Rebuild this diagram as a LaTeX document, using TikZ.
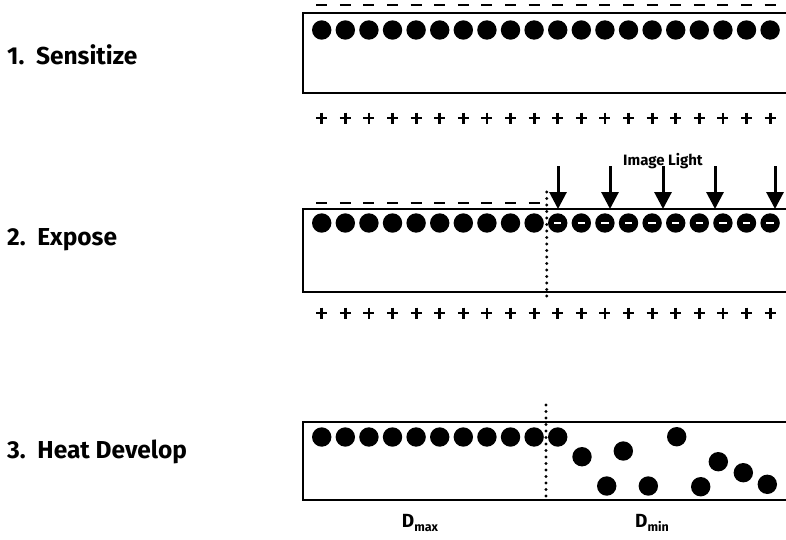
\documentclass[tikz,border=0pt]{standalone}
\usepackage{fontspec}
\setmainfont{Fira Sans}
\usetikzlibrary{arrows.meta}
\begin{document}
\begin{tikzpicture}[x=1pt,y=-1pt,
  film/.style={line width=2.6pt,draw=black},
  grain/.style={fill=black},
  chargeline/.style={line width=2.8pt,draw=black},
  steplabel/.style={font=\bfseries\fontsize{24.5}{27}\selectfont,anchor=west,inner sep=0pt},
  dlabel/.style={font=\bfseries\fontsize{19}{21}\selectfont,inner sep=0pt},
  lightarrow/.style={line width=3pt,-{Triangle[width=17pt,length=17pt]}},
  edgeline/.style={line width=3.4pt,dash pattern=on 0pt off 6.5pt,line cap=round}]
\useasboundingbox (0,0) rectangle (786,539);
\clip (0,0) rectangle (786,539);

% labels
\node[steplabel] (s1) at (7,55) {1.\ \ Sensitize};
\node[steplabel] (s2) at (7,240) {2.\ \ Expose};
\node[steplabel] (s3) at (7,452) {3.\ \ Heat Develop};

% ---- panel 1
\draw[film] (303,13) rectangle (800,93);
\foreach \i in {0,...,19}{
  \fill[grain] (321.7+23.6*\i,30) circle (9.7);
  \draw[chargeline] (316.2+23.6*\i,5) -- (327.2+23.6*\i,5);
  \draw[chargeline] (316.2+23.6*\i,118) -- (327.2+23.6*\i,118)
                    (321.7+23.6*\i,112.5) -- (321.7+23.6*\i,123.5);
}

% ---- panel 2
\draw[film] (303,209) rectangle (800,292);
\foreach \i in {0,...,19}{
  \fill[grain] (321.7+23.6*\i,223) circle (9.7);
  \draw[chargeline] (316.2+23.6*\i,313) -- (327.2+23.6*\i,313)
                    (321.7+23.6*\i,307.5) -- (321.7+23.6*\i,318.5);
}
\foreach \i in {0,...,9}{
  \draw[chargeline] (316.2+23.6*\i,203) -- (327.2+23.6*\i,203);
}
\foreach \i in {10,...,19}{
  \draw[line width=2pt,white] (318+23.6*\i,223) -- (325.4+23.6*\i,223);
}
\coordinate (e2t) at (546.7,192);
\coordinate (e2b) at (546.7,302);
\draw[edgeline] (e2t) -- (e2b);
\foreach \x in {558,610,663,715,775}{
  \draw[lightarrow] (\x,166) -- (\x,209);
}
\node[font=\bfseries\fontsize{15}{17}\selectfont,inner sep=0pt] (il) at (663,161) {Image Light};

% ---- panel 3
\draw[film] (303,422) rectangle (800,500);
\foreach \i in {0,...,10}{
  \fill[grain] (321.7+23.6*\i,437) circle (9.7);
}
\foreach \p in {(582,456.7),(623.3,451),(676.7,436.7),(606.7,486),(648.3,486),(718.3,461.7),(743.3,472.7),(700.7,486.7),(767.3,484.3)}{
  \fill[grain] \p circle (9.7);
}
\coordinate (e3t) at (546,405);
\coordinate (e3b) at (546,500);
\draw[edgeline] (e3t) -- (e3b);
\node[dlabel] (dmax) at (420,523) {D\raisebox{-0.35ex}{\fontsize{12.5}{14}\selectfont max}};
\node[dlabel] (dmin) at (652,523) {D\raisebox{-0.35ex}{\fontsize{12.5}{14}\selectfont min}};
\end{tikzpicture}
\end{document}
